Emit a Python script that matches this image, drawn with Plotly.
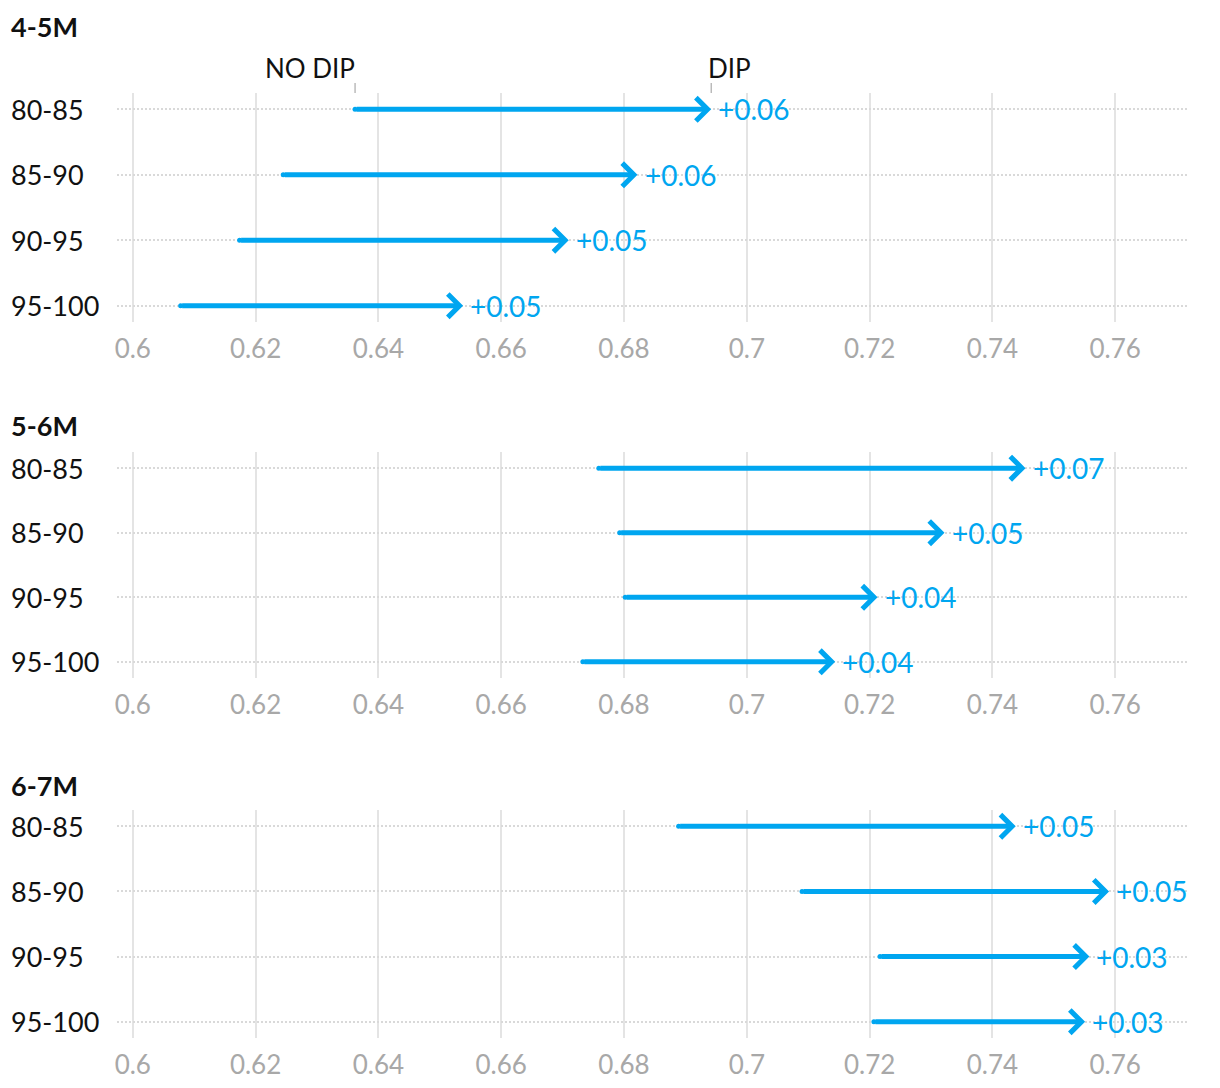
import plotly.graph_objects as go

groups = ["4-5M", "5-6M", "6-7M"]
categories = ["80-85", "85-90", "90-95", "95-100"]
no_dip = [
    [0.6362, 0.6245, 0.6174, 0.6078],
    [0.6759, 0.6793, 0.6802, 0.6733],
    [0.6889, 0.7090, 0.7217, 0.7207],
]
dip = [
    [0.6942, 0.6822, 0.6710, 0.6538],
    [0.7454, 0.7322, 0.7213, 0.7144],
    [0.7438, 0.7590, 0.7558, 0.7551],
]
delta_labels = [
    ["+0.06", "+0.06", "+0.05", "+0.05"],
    ["+0.07", "+0.05", "+0.04", "+0.04"],
    ["+0.05", "+0.05", "+0.03", "+0.03"],
]
tick_vals = [0.6, 0.62, 0.64, 0.66, 0.68, 0.7, 0.72, 0.74, 0.76]
tick_text = ["0.6", "0.62", "0.64", "0.66", "0.68", "0.7", "0.72", "0.74", "0.76"]

BLUE = "#00a6f0"
FONT = "Lato"
W, H = 1220, 1088
# pixel extents (top, bottom) of each panel's plot area
panel_px = [(93, 322), (452, 678), (810, 1038)]
x_px = (115, 1187)
x_range = [0.5974, 0.7717]
title_px = [27, 425, 785]

fig = go.Figure()
annotations = []
shapes = []
layout = dict(
    width=W, height=H,
    margin=dict(l=0, r=0, t=0, b=0),
    paper_bgcolor="white", plot_bgcolor="white",
    showlegend=False,
    font=dict(family=FONT, color="#111"),
)

for g, gname in enumerate(groups):
    sfx = "" if g == 0 else str(g + 1)
    xa, ya = "x" + sfx, "y" + sfx
    top, bot = panel_px[g]
    layout["xaxis" + sfx] = dict(
        domain=[x_px[0] / W, x_px[1] / W], range=x_range, anchor=ya,
        tickvals=tick_vals, ticktext=tick_text,
        showgrid=True, gridcolor="#e4e4e4", gridwidth=2,
        zeroline=False, showline=False,
        ticks="outside", ticklen=4, tickcolor="rgba(0,0,0,0)",
        tickfont=dict(family=FONT, size=26, color="#a8a8a8"),
        fixedrange=True,
    )
    layout["yaxis" + sfx] = dict(
        domain=[1 - bot / H, 1 - top / H], range=[3.25, -0.25], anchor=xa,
        tickvals=[0, 1, 2, 3], showticklabels=False,
        showgrid=True, gridcolor="#d9d9d9", gridwidth=2, griddash="2px,2px",
        zeroline=False, showline=False, fixedrange=True,
    )
    rows = list(range(len(categories)))
    # tail caps
    fig.add_trace(go.Scatter(
        x=no_dip[g], y=rows, xaxis=xa, yaxis=ya, mode="markers",
        marker=dict(size=5, color=BLUE, symbol="circle"),
        hoverinfo="skip",
    ))
    # panel title
    annotations.append(dict(
        xref="paper", yref="paper", x=7 / W, y=1 - title_px[g] / H,
        xanchor="left", yanchor="middle", showarrow=False,
        text="<b>%s</b>" % gname, font=dict(family=FONT, size=27, color="#111"),
    ))
    for i, cat in enumerate(categories):
        # category label
        annotations.append(dict(
            xref="paper", yref=ya, x=7 / W, y=i,
            xanchor="left", yanchor="middle", showarrow=False,
            text=cat, font=dict(family=FONT, size=27, color="#111"),
        ))
        # arrow
        annotations.append(dict(
            xref=xa, yref=ya, x=dip[g][i], y=i,
            axref=xa, ayref=ya, ax=no_dip[g][i], ay=i,
            showarrow=True, arrowhead=4, arrowsize=0.9, arrowwidth=5,
            arrowcolor=BLUE, text="", standoff=0,
        ))
        # delta label
        annotations.append(dict(
            xref=xa, yref=ya, x=dip[g][i], y=i,
            xanchor="left", yanchor="middle", showarrow=False, xshift=5,
            text=delta_labels[g][i], font=dict(family=FONT, size=28, color=BLUE),
        ))
    if g == 0:
        for val, lbl, anc in [(no_dip[0][0], "NO DIP", "right"), (dip[0][0], "DIP", "left")]:
            shapes.append(dict(
                type="line", xref=xa, yref="paper", x0=val, x1=val,
                y0=1 - 93 / H, y1=1 - 83 / H,
                line=dict(color="#999", width=1),
            ))
            annotations.append(dict(
                xref=xa, yref="paper", x=val, y=1 - 68 / H,
                xanchor=anc, yanchor="middle", showarrow=False,
                xshift=(2 if anc == "right" else -5),
                text=lbl, font=dict(family=FONT, size=26, color="#111"),
            ))

layout["annotations"] = annotations
layout["shapes"] = shapes
fig.update_layout(**layout)
fig.write_html("out.html", config={"displayModeBar": False},
               post_script="document.body.style.margin='0';")
